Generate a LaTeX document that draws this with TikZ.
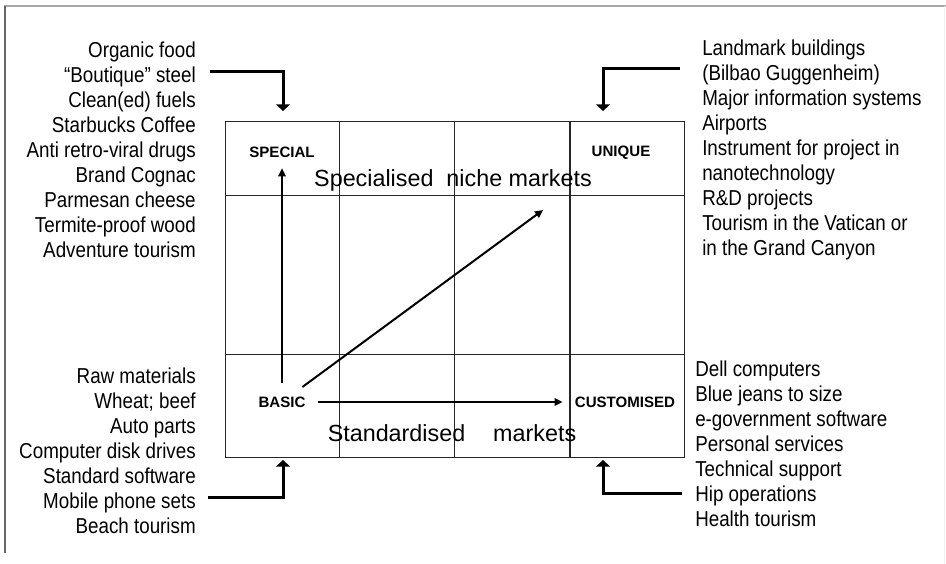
\documentclass[tikz,border=0pt]{standalone}
\usepackage{fontspec}
\setmainfont{Liberation Sans}
\newfontfamily\listfont[FakeStretch=0.87]{Liberation Sans}
\usetikzlibrary{arrows.meta}

\tikzset{
  itemtext/.style={font=\listfont\fontsize{16.2}{19}\selectfont, inner sep=0pt},
  corner/.style={font=\bfseries\fontsize{11.3}{13}\selectfont, inner sep=2pt},
  market/.style={font=\fontsize{17.5}{21}\selectfont, inner sep=0pt},
  feed/.style={line width=2.25pt, -{Triangle[width=10.5pt,length=5pt]}},
  move/.style={line width=1.5pt, -{Triangle[width=5.5pt,length=6pt]}},
  cell/.style={line width=0.75pt, draw=black!85}
}

\begin{document}
\begin{tikzpicture}[x=0.75pt, y=-0.75pt]
\useasboundingbox (0,0) rectangle (946,564);
% frame
\draw [line width=1.5pt, draw=black!35] (4,6) -- (946,6);
\draw [line width=1.5pt, draw=black!60] (4.5,6) -- (4.5,553);
\draw [line width=0.75pt, draw=black!6] (944,6) -- (944,564);

% grid
\draw [cell] (225,121) rectangle (684,457);
\draw [cell] (339,121) -- (339,457);
\draw [cell] (454,121) -- (454,457);
\draw [cell, line width=1.2pt] (570,121) -- (570,457);
\draw [cell] (225,195) -- (684,195);
\draw [cell] (225,354) -- (684,354);

\node [corner] (special) at (282,152) {SPECIAL};
\node [corner] (unique) at (621,153) {UNIQUE};
\node [corner] (basic) at (282,402) {BASIC};
\node [corner] (custom) at (625,402) {CUSTOMISED};

\node [market] (niche) at (453,180) {Specialised\ \ niche markets};
\node [market] (standard) at (452,433) {Standardised\hspace{21pt}markets};

\coordinate (diagtip) at (543,210);
\draw [move, shorten <=8pt, shorten >=6pt] (basic) -- (special);
\draw [move, shorten <=8.5pt] (basic) -- (diagtip);
\draw [move, shorten <=7pt, shorten >=7pt] (basic) -- (custom);

% examples
\foreach \t [count=\i] in {Organic food, “Boutique” steel, Clean(ed) fuels,
  Starbucks Coffee, Anti retro-viral drugs, Brand Cognac, Parmesan cheese,
  Termite-proof wood, Adventure tourism}
  \node [itemtext, anchor=base east] (spec\i) at (196, 57.5+25*\i-25) {\t};
\foreach \t [count=\i] in {Landmark buildings, {(Bilbao Guggenheim)},
  Major information systems, Airports, Instrument for project in,
  nanotechnology, R\&D projects, Tourism in the Vatican or, in the Grand Canyon}
  \node [itemtext, anchor=base west] (uniq\i) at (702, 55.5+25*\i-25) {\t};
\foreach \t [count=\i] in {Raw materials, Wheat; beef, Auto parts,
  Computer disk drives, Standard software, Mobile phone sets, Beach tourism}
  \node [itemtext, anchor=base east] (basc\i) at (196, 383+25*\i-25) {\t};
\foreach \t [count=\i] in {Dell computers, Blue jeans to size,
  e-government software, Personal services, Technical support,
  Hip operations, Health tourism}
  \node [itemtext, anchor=base west] (cust\i) at (695, 376.5+25*\i-25) {\t};

% feeders
\coordinate (specfrom) at (210,71);
\coordinate (specto) at (283,111);
\coordinate (uniqfrom) at (680,68);
\coordinate (uniqto) at (603,111);
\coordinate (bascfrom) at (208,497);
\coordinate (bascto) at (283,460);
\coordinate (custfrom) at (682,493);
\coordinate (custto) at (603,460);
\draw [feed] (specfrom) -| (specto);
\draw [feed] (uniqfrom) -| (uniqto);
\draw [feed] (bascfrom) -| (bascto);
\draw [feed] (custfrom) -| (custto);
\end{tikzpicture}
\end{document}
